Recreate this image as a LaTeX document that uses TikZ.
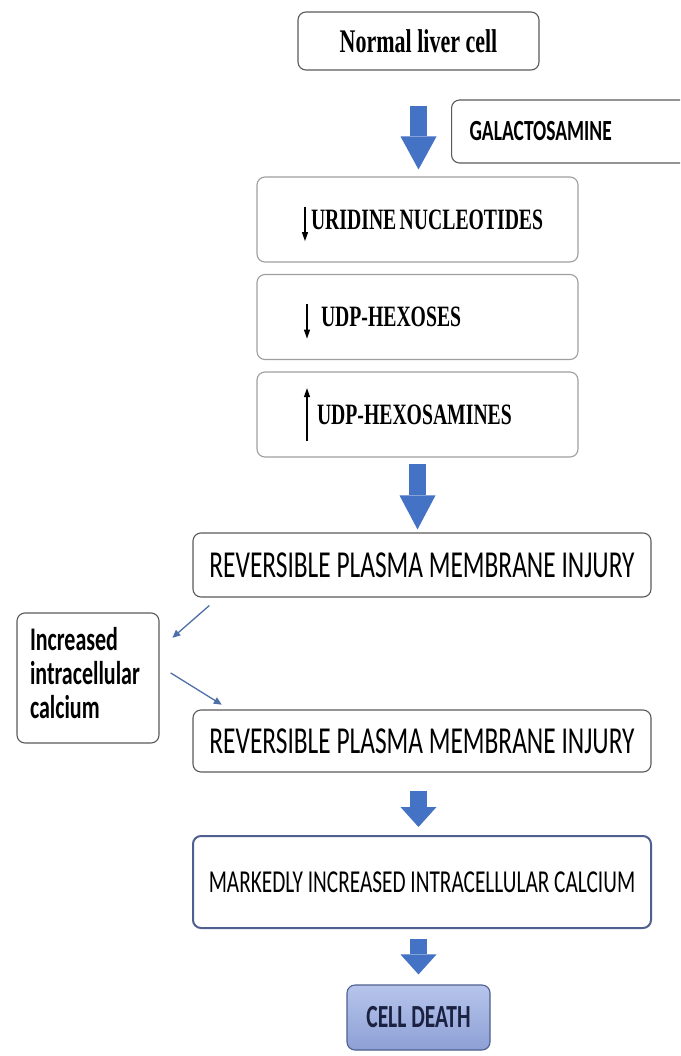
\documentclass[tikz,border=0pt]{standalone}
\usepackage{graphicx}
\usepackage{fontspec}
\setmainfont{Liberation Serif}
\newfontfamily\calibri{Carlito}
\usetikzlibrary{arrows.meta,calc}

\definecolor{arrowblue}{HTML}{4472C4}
\definecolor{thinblue}{HTML}{4F6FA8}
\definecolor{boxgray}{HTML}{5A5A5A}
\definecolor{markedge}{HTML}{4F5F8F}
\definecolor{deathtop}{HTML}{B7C5EC}
\definecolor{deathbot}{HTML}{8DA0D5}
\definecolor{deathtext}{HTML}{1B2140}

% the picture is stretched upright, so every text is too
\newcommand{\tall}[1]{\scalebox{1}[1.5]{#1}}
% little up/down marks in front of the metabolite names
\newcommand{\fall}{\smash{\tikz[baseline=0pt]\draw[black, line width=1.2pt,
    -{Triangle[width=6pt,length=6pt]}] (3pt,15pt) -- (3pt,-8pt);}}
\newcommand{\rise}{\smash{\tikz[baseline=0pt]\draw[black, line width=1.2pt,
    -{Triangle[width=6pt,length=6pt]}] (3pt,-11pt) -- (3pt,24pt);}}

\begin{document}
\begin{tikzpicture}[x=1pt, y=-1pt]
    \tikzset{
        box/.style={draw=boxgray, line width=1.1pt, rounded corners=8pt,
            inner sep=0pt, fill=white},
        stack box/.style={box, draw=gray!75, minimum width=321pt,
            minimum height=85pt, text width=235pt, inner xsep=43pt, align=left},
        wide box/.style={box, minimum width=458pt},
        fat arrow/.style={draw=arrowblue, line width=17pt,
            -{Triangle[width=36pt, length=#1, line width=0pt]}},
        thin arrow/.style={draw=thinblue, line width=1.3pt,
            -{Triangle[width=7pt, length=8pt]}},
    }
    \useasboundingbox (0,0) rectangle (680,1056);
    \clip (0,0) rectangle (680,1056);

    \node[box, minimum width=241pt, minimum height=58pt] (normal) at (418.5,41)
        {\tall{\fontsize{22}{24}\selectfont\bfseries Normal liver cell}};
    \node[box, anchor=west, minimum height=63pt, text width=224pt,
        inner xsep=18pt, align=left] (galac) at (451,131.5)
        {\tall{\calibri\bfseries\fontsize{19.5}{21}\selectfont GALACTOSAMINE}};

    \node[stack box] (uridine) at (417.5,219.5)
        {\tall{\fontsize{19.7}{22}\selectfont\bfseries
        \hspace*{2pt}\fall\hspace{3pt}URIDINE NUCLEOTIDES}};
    \node[stack box] (hexoses) at (417.5,317)
        {\tall{\fontsize{19.7}{22}\selectfont\bfseries
        \hspace*{4pt}\fall\hspace{11pt}UDP-HEXOSES}};
    \node[stack box] (hexosamines) at (417.5,414.5)
        {\tall{\fontsize{19.7}{22}\selectfont\bfseries
        \hspace*{4pt}\rise\hspace{7pt}UDP-HEXOSAMINES}};

    \node[wide box, minimum height=64pt] (rev1) at (422,565)
        {\tall{\calibri\fontsize{25.4}{28}\selectfont REVERSIBLE PLASMA MEMBRANE INJURY}};
    \node[box, minimum width=142pt, minimum height=130pt, text width=116pt,
        inner xsep=13pt, align=left] (calc) at (88,678)
        {\tall{\calibri\bfseries\fontsize{22}{22.7}\selectfont
        \begin{tabular}{@{}l@{}}Increased\\intracellular\\calcium\end{tabular}}};
    \node[wide box, minimum height=62pt] (rev2) at (422,741)
        {\tall{\calibri\fontsize{25.4}{28}\selectfont REVERSIBLE PLASMA MEMBRANE INJURY}};

    \node[wide box, draw=markedge, line width=2pt, minimum height=92pt] (marked) at (422,882)
        {\tall{\calibri\fontsize{21.3}{23}\selectfont MARKEDLY INCREASED INTRACELLULAR CALCIUM}};
    \node[box, draw=markedge, top color=deathtop, bottom color=deathbot,
        minimum width=143pt, minimum height=65pt, text=deathtext] (death) at (418.5,1017.5)
        {\tall{\calibri\bfseries\fontsize{21.5}{24}\selectfont CELL DEATH}};

    % big block arrows down the middle
    \draw[fat arrow=33pt, shorten <=35pt, shorten >=7pt]
        (normal.south) -- (normal.south |- uridine.north);
    \draw[fat arrow=34pt, shorten <=6pt, shorten >=3pt]
        (hexosamines.south) -- (hexosamines.south |- rev1.north);
    \draw[fat arrow=20pt, shorten <=18pt, shorten >=8pt]
        (rev2.south -| death.north) -- (death.north |- marked.north);
    \draw[fat arrow=20pt, shorten <=10pt, shorten >=10pt]
        (marked.south -| death.north) -- (death.north);

    % the loop through the calcium box
    \draw[thin arrow, shorten <=12pt, shorten >=17pt]
        ($(rev1.south west)+(26,0)$) -- ($(calc.east)+(0,-29)$);
    \draw[thin arrow, shorten <=13pt, shorten >=9pt]
        ($(calc.east)+(0,-12)$) -- ($(rev2.north west)+(37,0)$);
\end{tikzpicture}
\end{document}
